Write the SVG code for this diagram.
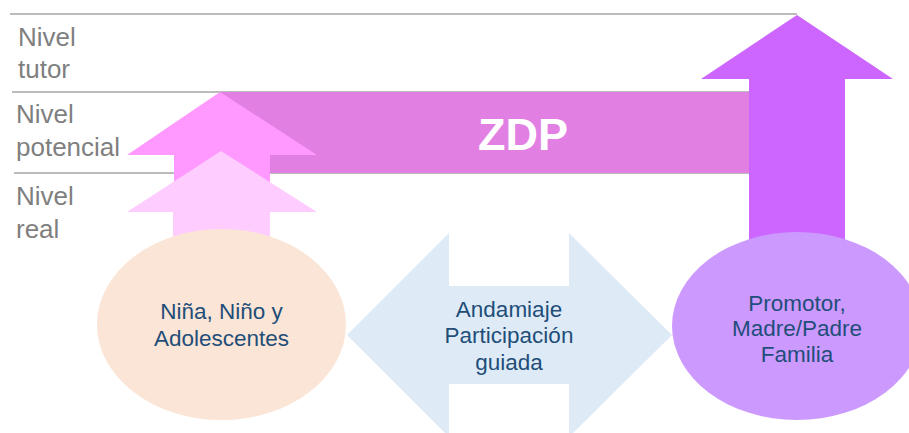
<svg xmlns="http://www.w3.org/2000/svg" width="909" height="433" viewBox="0 0 909 433">
<style>
.lvl{font-family:"Liberation Sans",Arial,sans-serif;font-size:26px;fill:#7F7F7F}
.node{font-family:"Liberation Sans",Arial,sans-serif;font-size:22.5px;fill:#1F4E79;text-anchor:middle}
.zdp{font-family:"Liberation Sans",Arial,sans-serif;font-size:45px;font-weight:bold;fill:#FFFFFF;text-anchor:middle}
.guide{stroke:#A6A6A6;stroke-width:1.5;fill:none}
</style>
<rect width="909" height="433" fill="#FFFFFF"/>
<g id="levels">
<line class="guide" x1="10" y1="14" x2="797" y2="14"/>
<line class="guide" x1="12" y1="92" x2="750" y2="92"/>
<line class="guide" x1="14" y1="173" x2="750" y2="173"/>
<text class="lvl" x="18" y="46">Nivel</text>
<text class="lvl" x="18" y="78">tutor</text>
<text class="lvl" x="16" y="123">Nivel</text>
<text class="lvl" x="16" y="156">potencial</text>
<text class="lvl" x="16" y="205">Nivel</text>
<text class="lvl" x="16" y="238">real</text>
</g>
<g id="zdp">
<rect x="221" y="92" width="530" height="81" fill="#E27FE2"/>
<text class="zdp" x="523" y="150">ZDP</text>
</g>
<g id="connectors">
<polygon id="arrow-potencial" points="220,92 317,155 270,155 270,240 174,240 174,155 127,155" fill="#FF99FF"/>
<polygon id="arrow-real" points="221,151 317,212 270,212 270,240 173,240 173,212 127,212" fill="#FFCCFF"/>
<polygon id="arrow-tutor" points="797,15 893,79 845,79 845,250 749,250 749,79 701,79" fill="#CC66FF"/>
<polygon id="arrow-andamiaje" points="347,335 449,233 449,286 569,286 569,233 672,335 569,437 569,384 449,384 449,437" fill="#DEEBF7"/>
</g>
<g id="node-nna">
<ellipse cx="221.5" cy="324.5" rx="124.5" ry="95.5" fill="#FBE5D6"/>
<text class="node" x="221.5" y="319">Niña, Niño y</text>
<text class="node" x="221.5" y="346">Adolescentes</text>
</g>
<g id="node-andamiaje">
<text class="node" x="509" y="317">Andamiaje</text>
<text class="node" x="509" y="343">Participación</text>
<text class="node" x="509" y="370">guiada</text>
</g>
<g id="node-promotor">
<ellipse cx="797" cy="326" rx="125" ry="94" fill="#CC99FF"/>
<text class="node" x="797" y="311">Promotor,</text>
<text class="node" x="797" y="336">Madre/Padre</text>
<text class="node" x="797" y="362">Familia</text>
</g>
</svg>
